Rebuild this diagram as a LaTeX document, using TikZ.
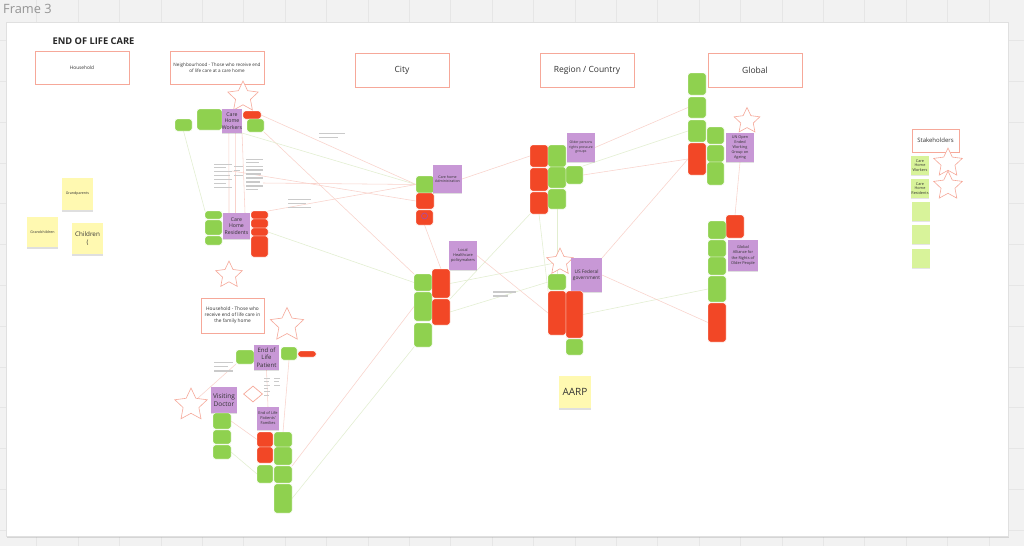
\documentclass[tikz,border=0pt]{standalone}
\usepackage{fontspec}
\setmainfont{Open Sans}
\usetikzlibrary{shapes.geometric,shadows}
\pgfdeclarelayer{bg}
\pgfdeclarelayer{lines}
\pgfsetlayers{bg,lines,main}
\definecolor{boardbg}{HTML}{F2F2F2}
\definecolor{gridc}{HTML}{E6E6E6}
\definecolor{stgreen}{HTML}{8FD14F}
\definecolor{stred}{HTML}{F24726}
\definecolor{stpurple}{HTML}{C898D6}
\definecolor{styellow}{HTML}{FFF9B1}
\definecolor{stlgreen}{HTML}{D8F39A}
\definecolor{hdrline}{HTML}{F6A899}
\definecolor{pinkln}{HTML}{F9D2CB}
\definecolor{greenln}{HTML}{E2EED0}
\definecolor{skelc}{HTML}{CACACA}
\definecolor{txtc}{HTML}{333333}
\newcommand\stk[7]{\node[#1,minimum width={(#5)-(#3)},minimum height={(#6)-(#4)}] (#2) at ({((#3)+(#5))/2},{((#4)+(#6))/2}) {#7};}
\tikzset{
  card/.style={inner sep=0pt,outer sep=0pt,rounded corners=2.5pt,draw=white,line width=0.4pt},
  gcard/.style={card,fill=stgreen},
  rcard/.style={card,fill=stred},
  pcard/.style={inner sep=0pt,outer sep=0pt,fill=stpurple,text=txtc,align=center,
    drop shadow={shadow xshift=0.3pt,shadow yshift=-1.3pt,opacity=0.25}},
  ycard/.style={inner sep=0pt,outer sep=0pt,fill=styellow,text=txtc,align=center,
    drop shadow={shadow xshift=0.3pt,shadow yshift=-1.6pt,opacity=0.25}},
  lgcard/.style={inner sep=0pt,outer sep=0pt,fill=stlgreen,text=txtc,align=center,
    drop shadow={shadow xshift=0.3pt,shadow yshift=-1.2pt,opacity=0.2}},
  hdr/.style={inner sep=0pt,outer sep=0pt,draw=hdrline,line width=0.9pt,fill=white,text=txtc,align=center},
  starn/.style={star,star points=5,star point ratio=2.05,draw=hdrline,fill=white,line width=0.6pt,inner sep=0pt},
  skel/.style={draw=skelc,line width=1.3pt},
  lpk/.style={draw=pinkln,line width=0.55pt},
  lgr/.style={draw=greenln,line width=0.55pt},
}
\begin{document}
\begin{tikzpicture}[x=1pt,y=-1pt]
\useasboundingbox (0,0) rectangle (1024,546);
\begin{pgfonlayer}{bg}
\fill[boardbg] (0,0) rectangle (1024,546);
\foreach \i in {0,...,24} {\draw[gridc,line width=0.5pt] ({36.7+41.4*\i},0) -- ({36.7+41.4*\i},546);}
\foreach \j in {0,...,13} {\draw[gridc,line width=0.5pt] (0,{-0.3+40.8*\j}) -- (1024,{-0.3+40.8*\j});}
\fill[white,draw=black!12,line width=0.5pt,drop shadow={shadow xshift=1pt,shadow yshift=-1.5pt,opacity=0.25}] (6,22) rectangle (1008,536);
\end{pgfonlayer}

\node[anchor=west,font=\fontsize{12.8}{14}\selectfont,text=black!42,inner sep=0pt] (frl) at (3,8.5) {Frame 3};
\node[font=\bfseries\fontsize{9.3}{11}\selectfont,text=black!85,inner sep=0pt] (title) at (93.5,41) {END OF LIFE CARE};

% headers
\stk{hdr,font=\fontsize{4.8}{6}\selectfont}{hh}{35}{51}{129}{84}{Household}
\stk{hdr,font=\fontsize{4.6}{6}\selectfont}{nh}{170}{51}{264}{84}{Neighbourhood - Those who receive end\\of life care at a care home}
\stk{hdr,font=\fontsize{8.5}{10}\selectfont}{city}{355}{53}{449}{87}{City}
\stk{hdr,font=\fontsize{8.5}{10}\selectfont}{reg}{540}{53}{634}{87}{Region / Country}
\stk{hdr,font=\fontsize{8.5}{10}\selectfont}{glob}{708}{53}{802}{87}{Global}
\stk{hdr,font=\fontsize{4.8}{5.9}\selectfont}{hf}{201}{298}{264}{333}{Household - Those who\\receive end of life care in\\the family home}
\stk{hdr,font=\fontsize{6}{7}\selectfont}{sh}{912}{129}{959}{152}{Stakeholders}

% yellow stickies
\stk{ycard,font=\fontsize{3.6}{4.5}\selectfont}{gp}{62}{178}{93}{210}{Grandparents}
\stk{ycard,font=\fontsize{3.6}{4.5}\selectfont}{gc}{27}{217}{58}{247}{Grandchildren}
\stk{ycard,font=\fontsize{6.3}{7.8}\selectfont}{ch}{72}{223}{103}{254}{Children\\(}
\stk{ycard,font=\fontsize{10}{12}\selectfont}{aarp}{559}{376}{591}{408}{AARP}

% stakeholders
\stk{lgcard,font=\fontsize{3.8}{4.8}\selectfont}{k1}{911}{156}{929}{175}{Care\\Home\\Workers}
\stk{lgcard,font=\fontsize{3.8}{4.8}\selectfont}{k2}{911}{179}{929}{198}{Care\\Home\\Residents}
\stk{lgcard}{k3}{912}{202}{930}{221}{}
\stk{lgcard}{k4}{912}{225}{930}{244}{}
\stk{lgcard}{k5}{912}{249}{930}{268}{}

% stars and diamond
\node[starn,minimum size=32pt] (s1) at (243,97) {};
\node[starn,minimum size=28pt] (s2) at (229,275) {};
\node[starn,minimum size=35pt] (s3) at (287,325) {};
\node[starn,minimum size=34pt] (s4) at (191,405) {};
\node[starn,minimum size=28pt] (s5) at (560,262) {};
\node[starn,minimum size=27pt] (s6) at (747,121) {};
\node[starn,minimum size=30pt] (s7) at (948,163) {};
\node[starn,minimum size=30pt] (s8) at (948,186) {};
\node[diamond,draw=hdrline,fill=white,line width=0.7pt,minimum width=19pt,minimum height=16pt,inner sep=0pt] (dm) at (253,394) {};

% neighbourhood: care home workers
\stk{gcard}{nA}{175}{119}{192}{131}{}
\stk{gcard}{nB}{197}{109}{222}{130}{}
\stk{pcard,font=\fontsize{5.2}{6.6}\selectfont}{wrk}{222}{109}{242}{133}{Care\\Home\\Workers}
\stk{rcard}{nC}{243}{111}{261}{119}{}
\stk{gcard}{nD}{247}{119}{264}{132}{}
% care home residents
\stk{gcard}{rA}{205}{211}{222}{219}{}
\stk{gcard}{rB}{205}{220}{222}{235}{}
\stk{gcard}{rC}{205}{236}{222}{245}{}
\stk{pcard,font=\fontsize{5.2}{6.6}\selectfont}{res}{223}{213}{250}{239}{Care\\Home\\Residents}
\stk{rcard}{rD}{251}{211}{268}{219}{}
\stk{rcard}{rE}{251}{219}{268}{228}{}
\stk{rcard}{rF}{251}{228}{268}{236}{}
\stk{rcard}{rG}{251}{236}{268}{257}{}

% household
\stk{gcard}{hA}{236}{350}{254}{364}{}
\stk{pcard,font=\fontsize{6}{7.5}\selectfont}{pat}{254}{345}{279}{370}{End of\\Life\\Patient}
\stk{gcard}{hB}{281}{347}{297}{360}{}
\stk{rcard}{hC}{298}{351}{316}{357}{}
\stk{pcard,font=\fontsize{6.5}{8}\selectfont}{doc}{211}{387}{237}{413}{Visiting\\Doctor}
\stk{gcard}{dA}{213}{413}{231}{429}{}
\stk{gcard}{dB}{213}{430}{231}{444}{}
\stk{gcard}{dC}{213}{445}{231}{459}{}
\stk{pcard,font=\fontsize{3.9}{5}\selectfont}{fam}{257}{407}{279}{430}{End of Life\\Patients'\\Families}
\stk{rcard}{fA}{257}{432}{273}{447}{}
\stk{rcard}{fB}{257}{447}{273}{463}{}
\stk{gcard}{fC}{257}{465}{273}{483}{}
\stk{gcard}{fD}{274}{432}{292}{447}{}
\stk{gcard}{fE}{274}{447}{292}{465}{}
\stk{gcard}{fF}{274}{466}{292}{483}{}
\stk{gcard}{fG}{274}{484}{292}{513}{}

% city
\stk{gcard}{cA}{416}{176}{434}{193}{}
\stk{rcard}{cB}{416}{193}{434}{209}{}
\stk{rcard}{cC}{416}{210}{433}{225}{}
\draw[violet!70,line width=0.6pt] (424.5,216) circle (3);
\stk{pcard,font=\fontsize{3.6}{4.6}\selectfont}{adm}{433}{165}{462}{193}{Care home\\Administration}
\stk{pcard,font=\fontsize{3.9}{5}\selectfont}{loc}{449}{241}{477}{270}{Local\\Healthcare\\policymakers}
\stk{gcard}{lA}{414}{274}{432}{291}{}
\stk{gcard}{lB}{414}{292}{432}{321}{}
\stk{gcard}{lC}{414}{323}{432}{347}{}
\stk{rcard}{lD}{432}{269}{450}{298}{}
\stk{rcard}{lE}{432}{299}{450}{325}{}

% region / country
\stk{rcard}{gA}{530}{145}{548}{167}{}
\stk{rcard}{gB}{530}{168}{548}{191}{}
\stk{rcard}{gC}{530}{192}{548}{214}{}
\stk{gcard}{gD}{548}{145}{566}{167}{}
\stk{gcard}{gE}{548}{167}{566}{188}{}
\stk{gcard}{gF}{548}{189}{566}{209}{}
\stk{gcard}{gG}{566}{166}{583}{184}{}
\stk{pcard,font=\fontsize{3.4}{4.5}\selectfont}{opr}{567}{133}{595}{162}{Older persons\\rights pressure\\groups}
\stk{pcard,font=\fontsize{4.8}{6.2}\selectfont}{usf}{571}{258}{602}{292}{US Federal\\government}
\stk{gcard}{uA}{548}{274}{566}{290}{}
\stk{rcard}{uB}{548}{291}{566}{335}{}
\stk{rcard}{uC}{566}{291}{583}{338}{}
\stk{gcard}{uD}{566}{339}{583}{355}{}

% global
\stk{gcard}{oA}{688}{73}{706}{95}{}
\stk{gcard}{oB}{688}{97}{706}{118}{}
\stk{gcard}{oC}{688}{120}{706}{142}{}
\stk{rcard}{oD}{688}{143}{706}{175}{}
\stk{gcard}{oE}{707}{127}{724}{144}{}
\stk{gcard}{oF}{707}{145}{724}{162}{}
\stk{gcard}{oG}{707}{162}{724}{185}{}
\stk{pcard,font=\fontsize{3.8}{5}\selectfont}{un}{726}{133}{754}{162}{UN Open\\Ended\\Working\\Group on\\Ageing}
\stk{rcard}{aA}{726}{215}{744}{238}{}
\stk{gcard}{aB}{708}{221}{726}{239}{}
\stk{gcard}{aC}{708}{240}{726}{257}{}
\stk{gcard}{aD}{708}{257}{726}{275}{}
\stk{gcard}{aE}{708}{276}{726}{302}{}
\stk{rcard}{aF}{708}{303}{726}{342}{}
\stk{pcard,font=\fontsize{3.9}{5.2}\selectfont}{gar}{728}{240}{758}{271}{Global\\Alliance for\\the Rights of\\Older People}

% connector labels (blurred text)
\foreach \yy/\xe in {164.3/232,167.7/226,171.7/232,175.7/230,179.3/232,183.3/226,187.3/232} {\draw[skel] (214,\yy) -- (\xe,\yy);}
\foreach \yy/\xe in {166.7/243,170.7/240,175.3/243} {\draw[skel] (234,\yy) -- (\xe,\yy);}
\foreach \yy/\xe in {159.3/263,162.7/259,166.7/263,170/263,174/261,178/263,182/260,186/263,189.3/258} {\draw[skel] (246,\yy) -- (\xe,\yy);}
\foreach \yy/\xe in {199.3/311,203.3/306,207.3/311} {\draw[skel] (288,\yy) -- (\xe,\yy);}
\foreach \yy/\xe in {133.3/345,137.3/338} {\draw[skel] (319,\yy) -- (\xe,\yy);}
\foreach \yy/\xe in {292/516,296/508} {\draw[skel] (493,\yy) -- (\xe,\yy);}
\foreach \yy/\xe in {362.7/233,366.7/228,371/233} {\draw[skel] (214,\yy) -- (\xe,\yy);}
\foreach \yy/\xe in {378.3/270,381.7/269,385/270,388.3/268,391.7/270,395/269} {\draw[skel,line width=1pt] (264,\yy) -- (\xe,\yy);}
\foreach \yy/\xe in {378.3/280,381.7/279,385/280} {\draw[skel,line width=1pt] (274,\yy) -- (\xe,\yy);}
\coordinate (lab1) at (232,171);
\coordinate (lab2) at (263,183);

% connectors
\begin{pgfonlayer}{lines}
\draw[lgr] (nA.south) -- (rA.north west);
\draw[lpk] ([xshift=7pt]wrk.south west) -- ([xshift=6pt]res.north west);
\draw[lpk] ([xshift=13.5pt]wrk.south west) -- ([xshift=12.5pt]res.north west);
\draw[lpk] (wrk.south east) -- ([xshift=-5pt]res.north east);
\draw[lpk] (nC.east) -- (cA.west);
\draw[lpk] (nD.south east) -- (lA.north west);
\draw[lgr] (wrk.south east) -- (cA.west);
\draw[lpk] (lab1) -- (cB.west);
\draw[lpk] (lab2) -- (cA.west);
\draw[lpk] (rD.north east) -- (cA.west);
\draw[lgr] (rF.east) -- (lA.west);
\draw[lpk] (adm.east) -- (gA.west);
\draw[lpk] (cC.south) -- (lD.north);
\draw[lpk] (fF.north east) -- (lB.west);
\draw[lgr] (fG.east) -- (lC.south west);
\draw[lgr] (lE.north east) -- (gC.south west);
\draw[lgr] (lD.east) -- (s5);
\draw[lgr] (lE.east) -- (uA.west);
\draw[lpk] (loc.east) -- (uB.west);
\draw[lpk] (opr.east) -- (oB.west);
\draw[lgr] (gG.north east) -- (oC.west);
\draw[lpk] (gG.east) -- (oD.west);
\draw[lgr] (gC.south) -- (uB.north west);
\draw[lgr] (gF.south) -- (uA.north);
\draw[lpk] (usf.north east) -- (oD.west);
\draw[lgr] (uC.east) -- (aE.west);
\draw[lpk] (usf.east) -- (aF.west);
\draw[lpk] (un.south) -- (aA.north);
\draw[lpk] (s4.north east) -- (hA.south west);
\draw[lpk] (dA.east) -- (fA.west);
\draw[lgr] (dC.east) -- (fC.west);
\draw[lpk] (pat.south) -- (fam.north);
\draw[lpk] (hB.south) -- (fD.north);
\end{pgfonlayer}
\end{tikzpicture}
\end{document}
